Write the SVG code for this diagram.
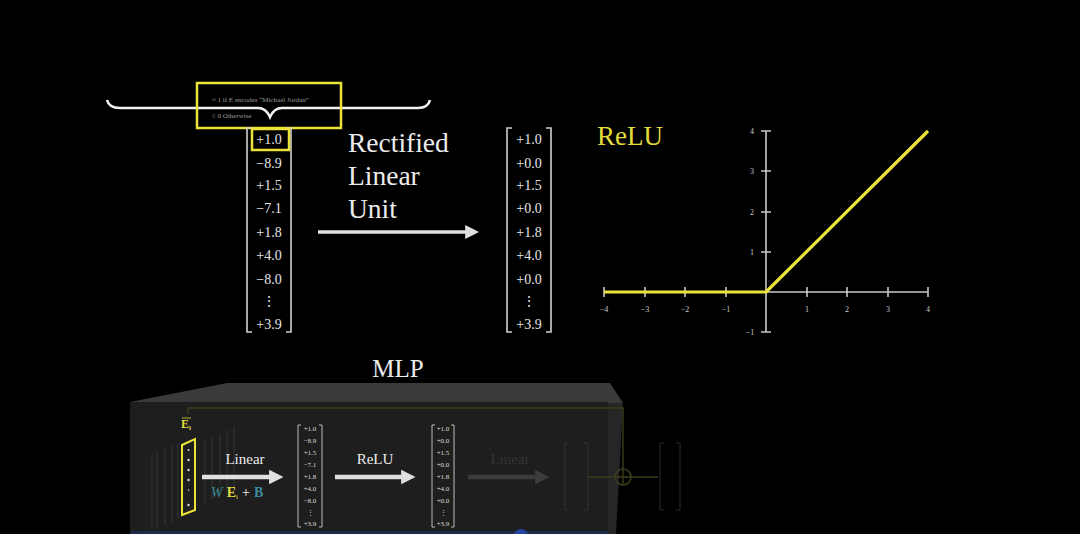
<svg xmlns="http://www.w3.org/2000/svg" width="1080" height="534" viewBox="0 0 1080 534">
<style>
.val{font-family:"Liberation Serif",serif;font-size:14px;fill:#e6e6e6;text-anchor:middle}
.sval{font-family:"Liberation Serif",serif;font-size:7px;fill:#ddd;text-anchor:middle}
.brk{fill:none;stroke:#d0d0d0;stroke-width:1.6}
.sbrk{fill:none;stroke:#bbb;stroke-width:1}
.big{font-family:"Liberation Serif",serif;font-size:27.5px;fill:#ececec}
.tick{font-family:"Liberation Serif",serif;font-size:8px;fill:#ccc;text-anchor:middle}
.axis{stroke:#c8c8c8;stroke-width:1.6;fill:none}
.yel{stroke:#ece33a;fill:none}
.faint{stroke:#3a3a3a;stroke-width:0.8;fill:none}
</style>
<defs>
<marker id="ah" viewBox="0 0 10 10" refX="2" refY="5" markerWidth="4" markerHeight="4" orient="auto" markerUnits="strokeWidth">
<path d="M0,0 L10,5 L0,10 z" fill="#e0e0e0"/>
</marker>
<marker id="ahs" viewBox="0 0 10 10" refX="2" refY="5" markerWidth="3.2" markerHeight="3.4" orient="auto" markerUnits="strokeWidth">
<path d="M0,0 L10,5 L0,10 z" fill="#e0e0e0"/>
</marker>
<marker id="ahf" viewBox="0 0 10 10" refX="2" refY="5" markerWidth="3.2" markerHeight="3.4" orient="auto" markerUnits="strokeWidth">
<path d="M0,0 L10,5 L0,10 z" fill="#3c3c3c"/>
</marker>
</defs>
<rect width="1080" height="534" fill="#000"/>

<g id="brace">
<path d="M107,100 Q109,108 120,108 L258,108 Q266,108 270,117 Q274,108 282,108 L418,108 Q428,108 430,100" fill="none" stroke="#f2f2f2" stroke-width="2.6"/>
</g>
<g id="condition-box">
<rect x="197" y="83" width="144" height="45" class="yel" stroke-width="2.5"/>
<text x="212" y="102" font-family="Liberation Serif,serif" font-size="7" fill="#9a9a9a">≈ 1 if E encodes “Michael Jordan”</text>
<text x="212" y="118" font-family="Liberation Serif,serif" font-size="7" fill="#9a9a9a">≤ 0 Otherwise</text>
</g>

<g id="input-vector">
<path class="brk" d="M252,128 H247 V332 H252 M286,128 H291 V332 H286"/>
<rect x="252" y="129" width="37" height="21" class="yel" stroke-width="2.5"/>
<text class="val" x="269" y="144">+1.0</text>
<text class="val" x="269" y="168">−8.9</text>
<text class="val" x="269" y="190">+1.5</text>
<text class="val" x="269" y="213">−7.1</text>
<text class="val" x="269" y="237">+1.8</text>
<text class="val" x="269" y="260">+4.0</text>
<text class="val" x="269" y="284">−8.0</text>
<text class="val" x="269" y="306">⋮</text>
<text class="val" x="269" y="329">+3.9</text>
</g>

<g id="relu-label">
<text class="big" x="348" y="152">Rectified</text>
<text class="big" x="348" y="185">Linear</text>
<text class="big" x="348" y="218">Unit</text>
</g>

<g id="output-vector">
<path class="brk" d="M512,128 H507 V332 H512 M546,128 H551 V332 H546"/>
<text class="val" x="529" y="144">+1.0</text>
<text class="val" x="529" y="168">+0.0</text>
<text class="val" x="529" y="190">+1.5</text>
<text class="val" x="529" y="213">+0.0</text>
<text class="val" x="529" y="237">+1.8</text>
<text class="val" x="529" y="260">+4.0</text>
<text class="val" x="529" y="284">+0.0</text>
<text class="val" x="529" y="306">⋮</text>
<text class="val" x="529" y="329">+3.9</text>
</g>

<g id="relu-graph">
<text x="597" y="145" font-family="Liberation Serif,serif" font-size="27" fill="#e3dc3a">ReLU</text>
<path class="axis" d="M604,292 H928 M766,131 V332"/>
<path class="axis" d="M604,287 V297 M645,287 V297 M685,287 V297 M726,287 V297 M807,287 V297 M847,287 V297 M888,287 V297 M928,287 V297 M761,131 H771 M761,171 H771 M761,212 H771 M761,252 H771 M761,332 H771"/>
<text class="tick" x="604" y="312">−4</text>
<text class="tick" x="645" y="312">−3</text>
<text class="tick" x="685" y="312">−2</text>
<text class="tick" x="726" y="312">−1</text>
<text class="tick" x="807" y="312">1</text>
<text class="tick" x="847" y="312">2</text>
<text class="tick" x="888" y="312">3</text>
<text class="tick" x="928" y="312">4</text>
<text class="tick" x="752" y="134">4</text>
<text class="tick" x="752" y="174">3</text>
<text class="tick" x="752" y="215">2</text>
<text class="tick" x="752" y="255">1</text>
<text class="tick" x="750" y="335">−1</text>
<polyline points="604,292 766,292 928,131" class="yel" stroke-width="3.2" stroke-linejoin="round"/>
</g>

<g id="mlp">
<text x="398" y="377" font-family="Liberation Serif,serif" font-size="25" fill="#ececec" text-anchor="middle">MLP</text>
<polygon points="130,402 227,383 610,383 623,403" fill="#3a3a3a"/>
<rect x="130" y="402" width="478" height="132" fill="#1e1e1e"/>
<polygon points="608,403 623,403 616,534 608,534" fill="#262626"/>
<line x1="130" y1="532.5" x2="608" y2="532.5" stroke="#1d2a48" stroke-width="3"/>
<circle cx="521" cy="536" r="7" fill="#2246a0"/>
<path d="M188,414 V408 H623 V469" stroke="#3d3c1c" stroke-width="1.4" fill="none"/>
<circle cx="623" cy="477" r="8" stroke="#3d3c1c" stroke-width="1.6" fill="none"/>
<path d="M587,477 H658 M623,469 V485" stroke="#3d3c1c" stroke-width="1.4" fill="none"/>
<path class="faint" d="M152,455 V530 M157,452 V528 M165,449 V525 M172,446 V522 M178,445 V518"/>
<path class="faint" d="M205,440 V505 M212,437 V500 M220,434 V498 M227,430 V495 M234,427 V492"/>
<text x="181" y="428" font-family="Liberation Serif,serif" font-size="12" font-weight="bold" fill="#e3dc3a">E<tspan font-size="7" dy="2">i</tspan></text>
<line x1="182" y1="418" x2="191" y2="418" stroke="#e3dc3a" stroke-width="0.8"/>
<polygon points="182,445 195,439 195,510 182,515" class="yel" stroke-width="2"/>
<g fill="#ddd">
<circle cx="188.5" cy="450" r="1"/><circle cx="188.5" cy="460" r="1.2"/><circle cx="188.5" cy="470" r="1.2"/><circle cx="188.5" cy="480" r="1.2"/><circle cx="188.5" cy="490" r="0.8"/><circle cx="188.5" cy="505" r="1.2"/>
</g>
<text x="245" y="464" font-family="Liberation Serif,serif" font-size="15" fill="#ececec" text-anchor="middle">Linear</text>
<text x="211" y="497" font-family="Liberation Serif,serif" font-size="14"><tspan fill="#3d8a9a" font-style="italic">W</tspan><tspan fill="#e3dc3a" font-weight="bold" dx="4">E</tspan><tspan fill="#e3dc3a" font-size="7" dy="2">i</tspan><tspan fill="#ececec" dx="4" dy="-2">+</tspan><tspan fill="#3d8a9a" font-weight="bold" dx="4">B</tspan></text>
<text x="375" y="464" font-family="Liberation Serif,serif" font-size="15" fill="#ececec" text-anchor="middle">ReLU</text>
<path class="sbrk" d="M301,425 H298 V527 H301 M319,425 H322 V527 H319"/>
<text class="sval" x="310" y="431">+1.0</text>
<text class="sval" x="310" y="443">−8.9</text>
<text class="sval" x="310" y="455">+1.5</text>
<text class="sval" x="310" y="467">−7.1</text>
<text class="sval" x="310" y="479">+1.8</text>
<text class="sval" x="310" y="491">+4.0</text>
<text class="sval" x="310" y="503">−8.0</text>
<text class="sval" x="310" y="515">⋮</text>
<text class="sval" x="310" y="526">+3.9</text>
<path class="sbrk" d="M435,425 H432 V527 H435 M451,425 H454 V527 H451"/>
<text class="sval" x="443" y="431">+1.0</text>
<text class="sval" x="443" y="443">+0.0</text>
<text class="sval" x="443" y="455">+1.5</text>
<text class="sval" x="443" y="467">+0.0</text>
<text class="sval" x="443" y="479">+1.8</text>
<text class="sval" x="443" y="491">+4.0</text>
<text class="sval" x="443" y="503">+0.0</text>
<text class="sval" x="443" y="515">⋮</text>
<text class="sval" x="443" y="526">+3.9</text>
<text x="510" y="464" font-family="Liberation Serif,serif" font-size="15" fill="#333" text-anchor="middle">Linear</text>
<path d="M569,443 H565 V510 H569 M584,443 H588 V510 H584" stroke="#333" stroke-width="1" fill="none"/>
<path d="M664,443 H660 V510 H664 M676,443 H680 V510 H676" stroke="#2a2a2a" stroke-width="1" fill="none"/>
</g>

<g id="connectors">
<line x1="318" y1="232" x2="468" y2="232" stroke="#e0e0e0" stroke-width="3.5" marker-end="url(#ah)"/>
<line x1="202" y1="477" x2="272" y2="477" stroke="#e0e0e0" stroke-width="4.5" marker-end="url(#ahs)"/>
<line x1="335" y1="477" x2="404" y2="477" stroke="#e0e0e0" stroke-width="4.5" marker-end="url(#ahs)"/>
<line x1="468" y1="477" x2="538" y2="477" stroke="#3c3c3c" stroke-width="4.5" marker-end="url(#ahf)"/>
</g>
</svg>
